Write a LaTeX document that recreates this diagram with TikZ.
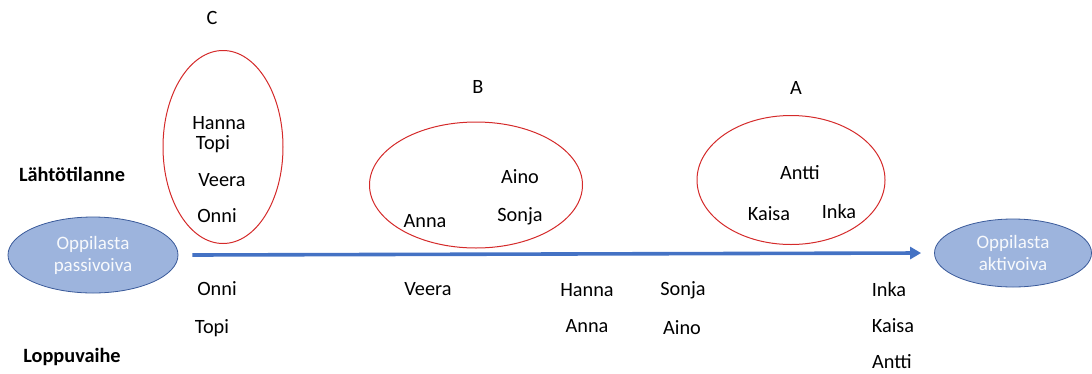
\documentclass[tikz,border=0pt]{standalone}
\usepackage{fontspec}
\setmainfont{Carlito}
\usetikzlibrary{arrows.meta,positioning,shapes.geometric}
\definecolor{grp}{HTML}{D42A2A}
\definecolor{pole}{HTML}{9DB4DD}
\definecolor{poledraw}{HTML}{3A5A9A}
\definecolor{axis}{HTML}{4472C4}
\begin{document}
\begin{tikzpicture}[x=1pt, y=-1pt,
  nm/.style={font=\fontsize{20.3}{22}\selectfont, inner sep=0pt},
  hd/.style={font=\fontsize{20.3}{22}\selectfont\bfseries, inner sep=0pt},
  grpring/.style={draw=grp, line width=1pt, ellipse, inner sep=0pt},
  polenode/.style={ellipse, fill=pole, draw=poledraw, line width=0.8pt, inner sep=0pt,
    align=center, text=white!92!pole, font=\fontsize{19}{22}\selectfont},
  ar/.style={-{Triangle[length=11pt, width=12pt]}, line width=3.6pt, axis}]
\useasboundingbox (0,0) rectangle (1092,373);
% ryhmät
\node[grpring, minimum width=120pt, minimum height=193pt] (ringC) at (223,147) {};
\node[grpring, minimum width=213pt, minimum height=126pt] (ringB) at (476,185) {};
\node[grpring, minimum width=188pt, minimum height=129pt] (ringA) at (791,180) {};
\node[nm] (labC) at (212,18) {C};
\node[nm] (labB) at (478,87) {B};
\node[nm] (labA) at (796,88) {A};
% lähtötilanne
\node[nm] (hannaS) at (219,123.5) {Hanna};
\node[nm] (topiS) at (213,144.5) {Topi};
\node[nm] (veeraS) at (222,180) {Veera};
\node[nm] (onniS) at (217,216) {Onni};
\node[nm] (ainoS) at (520,177) {Aino};
\node[nm] (sonjaS) at (520,216) {Sonja};
\node[nm] (annaS) at (425,221) {Anna};
\node[nm] (anttiS) at (800,173) {Antti};
\node[nm] (kaisaS) at (769,214) {Kaisa};
\node[nm] (inkaS) at (839,212) {Inka};
\node[hd] (start) at (72,174) {Lähtötilanne};
\node[hd] (final) at (72,357) {Loppuvaihe};
% jana
\node[polenode, minimum width=170pt, minimum height=76pt] (pas) at (93,255) {Oppilasta\\passivoiva};
\node[polenode, minimum width=157pt, minimum height=68pt] (act) at (1013,253) {Oppilasta\\aktivoiva};
\draw[ar] ([xshift=14pt]pas.east) -- ([xshift=-13pt]act.west);
% loppuvaihe
\node[nm] (onniE) at (217,289) {Onni};
\node[nm] (topiE) at (212,328) {Topi};
\node[nm] (veeraE) at (428,289) {Veera};
\node[nm] (hannaE) at (587,290) {Hanna};
\node[nm] (annaE) at (587,326) {Anna};
\node[nm] (sonjaE) at (683,290) {Sonja};
\node[nm] (ainoE) at (682,328) {Aino};
\node[nm] (inkaE) at (889,290) {Inka};
\node[nm] (kaisaE) at (893,326) {Kaisa};
\node[nm] (anttiE) at (892,362) {Antti};
\end{tikzpicture}
\end{document}
